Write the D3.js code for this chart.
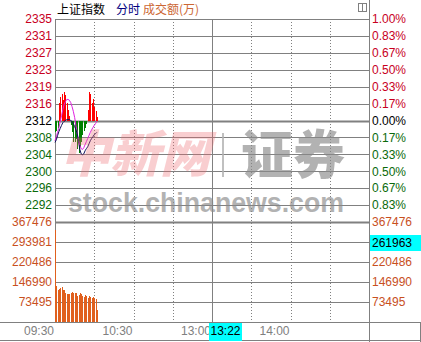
<!DOCTYPE html>
<html>
<head>
<meta charset="utf-8">
<script src="https://cdn.jsdelivr.net/npm/d3@7"></script>
<style>
  body { margin: 0; background: #fff; }
  svg { display: block; }
  text { font-family: "Liberation Sans", Arial, sans-serif; font-size: 12px; }
  .cjk { font-family: "Noto Sans CJK SC", sans-serif; }
</style>
</head>
<body>
<svg id="chart" width="421" height="342"></svg>
<script>
// ---- data ----
const prevClose = 2312.2;
const priceLabels = ["2335", "2331", "2327", "2323", "2319", "2316", "2312", "2308", "2304", "2300", "2296", "2292"];
const pctLabels = ["1.00%", "0.83%", "0.67%", "0.50%", "0.33%", "0.17%", "0.00%", "0.17%", "0.33%", "0.50%", "0.67%", "0.83%"];
const volMax = 367476;
const volLabels = [367476, 293981, 220486, 146990, 73495];
const timeLabels = ["09:30", "10:30", "13:00", "14:00"];
const timeMinutes = [0, 60, 120, 180];
const cursorLabel = "13:22";
const cursorMinute = 142;
const cursorVolume = 261963;

// index (magenta) and leading index (navy), one value per minute from 09:30
const indexLine = [2307.6, 2308.5, 2309.5, 2310.6, 2312.0, 2313.3, 2314.7, 2315.9, 2316.5, 2317.0, 2317.0,
  2316.8, 2316.3, 2315.4, 2314.3, 2312.9, 2311.1, 2309.2, 2307.6, 2306.5, 2305.8, 2305.6,
  2306.0, 2306.7, 2307.4, 2308.1, 2308.8, 2309.5, 2310.1, 2310.6, 2311.1, 2311.5, 2312.0];
const leadLine = [2307.2, 2307.8, 2308.8, 2309.7, 2310.4, 2311.1, 2311.7, 2312.0, 2312.2, 2312.4, 2312.4,
  2312.4, 2312.2, 2312.0, 2311.5, 2310.8, 2310.1, 2309.2, 2307.4, 2305.6, 2304.6, 2304.4,
  2304.6, 2305.3, 2305.8, 2306.2, 2306.9, 2307.6, 2308.1, 2308.5, 2309.0, 2309.2, 2309.5];
// buy/sell power bars, index points above/below previous close
const power = [-2.7, -2.3, -1.6, 3.9, 5.3, 6.0, 4.6, 6.4, 5.7, 3.9, 2.5,
  1.1, -1.1, -2.7, -4.8, -5.0, -4.3, -6.6, -7.3, -6.0, -4.8, -3.4,
  -2.3, -1.6, -0.9, 2.5, 6.6, 6.0, 3.9, 4.8, 3.0, 2.1, 0.7];
// turnover per minute (万)
const volume = [338000, 133000, 119000, 121000, 124000, 128000, 118000, 116000, 107000, 103000, 104000,
  102000, 106000, 109000, 106000, 107000, 105000, 94000, 99000, 107000, 103000, 95000,
  92000, 100000, 97000, 90000, 94000, 92000, 90000, 91000, 88000, 84000, 45000];

// ---- layout ----
const svg = d3.select("#chart");
const plotLeft = 55, plotRight = 369, plotTop = 19, priceBottom = 222, volBottom = 322;
const gridColor = "#808080";
const red = "#c8001e", green = "#0a6a0a", brown = "#c8501e";

const x = d3.scaleLinear().domain([0, 240]).range([plotLeft, plotRight]);
const y = d3.scaleLinear().domain([prevClose * 0.99, prevClose * 1.01]).range([priceBottom, plotTop]);
const yv = d3.scaleLinear().domain([0, volMax]).range([volBottom, priceBottom]);

const pctTicks = d3.range(12).map(i => 1 - i / 6);
const crisp = v => Math.round(v) + 0.5;

// horizontal grid, price part
svg.append("g").selectAll("line")
  .data(pctTicks)
  .join("line")
  .attr("x1", plotLeft).attr("x2", plotRight)
  .attr("y1", d => crisp(y(prevClose * (1 + d / 100))))
  .attr("y2", d => crisp(y(prevClose * (1 + d / 100))))
  .attr("stroke", gridColor)
  .attr("stroke-width", (d, i) => i === 6 ? 2 : 1);

// horizontal grid, volume part
svg.append("g").selectAll("line")
  .data(volLabels)
  .join("line")
  .attr("x1", plotLeft).attr("x2", plotRight)
  .attr("y1", d => crisp(yv(d)))
  .attr("y2", d => crisp(yv(d)))
  .attr("stroke", gridColor)
  .attr("stroke-width", (d, i) => i === 0 ? 2 : 1);

// vertical dotted lines every 30 minutes, solid at noon
svg.append("g").selectAll("line")
  .data([30, 60, 90, 150, 180, 210])
  .join("line")
  .attr("x1", d => crisp(x(d))).attr("x2", d => crisp(x(d)))
  .attr("y1", plotTop).attr("y2", volBottom)
  .attr("stroke", gridColor)
  .attr("stroke-dasharray", "1,2");
svg.append("line")
  .attr("x1", crisp(x(120))).attr("x2", crisp(x(120)))
  .attr("y1", plotTop).attr("y2", volBottom)
  .attr("stroke", gridColor);

// frame
svg.append("line").attr("x1", plotLeft + 0.5).attr("x2", plotLeft + 0.5).attr("y1", plotTop).attr("y2", volBottom).attr("stroke", gridColor);
svg.append("line").attr("x1", plotRight + 0.5).attr("x2", plotRight + 0.5).attr("y1", 0).attr("y2", 342).attr("stroke", gridColor);
svg.append("line").attr("x1", 0).attr("x2", 421).attr("y1", volBottom + 0.5).attr("y2", volBottom + 0.5).attr("stroke", gridColor);
svg.append("line").attr("x1", 0).attr("x2", 421).attr("y1", 340.5).attr("y2", 340.5).attr("stroke", gridColor);
svg.append("line").attr("x1", 420.5).attr("x2", 420.5).attr("y1", volBottom).attr("y2", 342).attr("stroke", gridColor);

// small icon top right
svg.append("rect").attr("x", 358.5).attr("y", 3.5).attr("width", 8).attr("height", 8)
  .attr("fill", "none").attr("stroke", gridColor);
svg.append("line").attr("x1", 362.5).attr("x2", 362.5).attr("y1", 3.5).attr("y2", 11.5).attr("stroke", gridColor);

// power bars
svg.append("g").selectAll("rect")
  .data(power)
  .join("rect")
  .attr("x", (d, i) => Math.round(x(i)))
  .attr("width", 1)
  .attr("y", d => y(prevClose + Math.max(0, d)))
  .attr("height", d => Math.abs(y(prevClose + d) - y(prevClose)))
  .attr("fill", d => d >= 0 ? "#ff0000" : "#008000")
  .attr("shape-rendering", "crispEdges");

// lines
const line = d3.line().x((d, i) => x(i)).y(d => y(d));
svg.append("path").attr("d", line(indexLine)).attr("fill", "none").attr("stroke", "#e020e0").attr("stroke-width", 1);
svg.append("path").attr("d", line(leadLine)).attr("fill", "none").attr("stroke", "#10105a").attr("stroke-width", 1);

// volume bars
svg.append("g").selectAll("rect")
  .data(volume)
  .join("rect")
  .attr("x", (d, i) => Math.round(x(i)))
  .attr("width", 1)
  .attr("y", d => yv(d))
  .attr("height", d => yv(0) - yv(d))
  .attr("fill", "#e0601e")
  .attr("shape-rendering", "crispEdges");

// watermark
const wm = svg.append("g").attr("pointer-events", "none");
wm.append("text").attr("class", "cjk").attr("x", 60).attr("y", 172)
  .style("font-size", "50px").style("font-weight", 900).style("font-style", "italic")
  .attr("fill", "#ee6a70").attr("opacity", 0.32).text("中新网");
wm.append("rect").attr("x", 222).attr("y", 133).attr("width", 2).attr("height", 44)
  .attr("fill", "#b0b0b0").attr("opacity", 0.8);
wm.append("text").attr("class", "cjk").attr("x", 241).attr("y", 174)
  .style("font-size", "52px").style("font-weight", 900)
  .attr("fill", "#8a8a8a").attr("opacity", 0.65).text("证券");
wm.append("text").attr("x", 68).attr("y", 212)
  .style("font-size", "28px").style("font-weight", "bold")
  .attr("textLength", 276).attr("lengthAdjust", "spacingAndGlyphs")
  .attr("fill", "#8a8a8a").attr("opacity", 0.65).text("stock.chinanews.com");

// price labels, left
svg.append("g").selectAll("text")
  .data(pctTicks)
  .join("text")
  .attr("x", 52)
  .attr("y", d => y(prevClose * (1 + d / 100)))
  .attr("dy", "0.36em")
  .attr("text-anchor", "end")
  .attr("fill", (d, i) => i < 6 ? red : i === 6 ? "#000" : green)
  .text((d, i) => priceLabels[i]);

// percent labels, right
svg.append("g").selectAll("text")
  .data(pctTicks)
  .join("text")
  .attr("x", 372)
  .attr("y", d => y(prevClose * (1 + d / 100)))
  .attr("dy", "0.36em")
  .attr("fill", (d, i) => i < 6 ? red : i === 6 ? "#000" : green)
  .text((d, i) => pctLabels[i]);

// volume labels
["left", "right"].forEach(side => {
  svg.append("g").selectAll("text")
    .data(volLabels)
    .join("text")
    .attr("x", side === "left" ? 52 : 372)
    .attr("y", d => yv(d))
    .attr("dy", "0.36em")
    .attr("text-anchor", side === "left" ? "end" : "start")
    .attr("fill", brown)
    .text(d => d);
});

// time labels, right-aligned at their minute
svg.append("g").selectAll("text")
  .data(timeMinutes)
  .join("text")
  .attr("x", d => x(d) - 1)
  .attr("y", 335)
  .attr("text-anchor", "end")
  .attr("fill", gridColor)
  .text((d, i) => timeLabels[i]);

// cursor boxes
const cx = Math.round(x(cursorMinute)) + 1;
svg.append("rect").attr("x", cx - 33).attr("y", volBottom + 1).attr("width", 33).attr("height", 18).attr("fill", "#00ffff");
svg.append("text").attr("x", cx - 16.5).attr("y", 335).attr("text-anchor", "middle").attr("fill", "#000").text(cursorLabel);
const cy = Math.round(yv(cursorVolume));
svg.append("rect").attr("x", plotRight + 1).attr("y", cy - 16).attr("width", 51).attr("height", 16).attr("fill", "#00ffff");
svg.append("text").attr("x", 372).attr("y", cy - 8).attr("dy", "0.36em").attr("fill", "#000").text(cursorVolume);

// title
const title = svg.append("text").attr("class", "cjk").attr("y", 14);
title.append("tspan").attr("x", 57).attr("fill", "#000").text("上证指数");
title.append("tspan").attr("x", 116).attr("fill", "#000080").text("分时");
title.append("tspan").attr("x", 143).attr("fill", "#cc6633").text("成交额(万)");
</script>
</body>
</html>
